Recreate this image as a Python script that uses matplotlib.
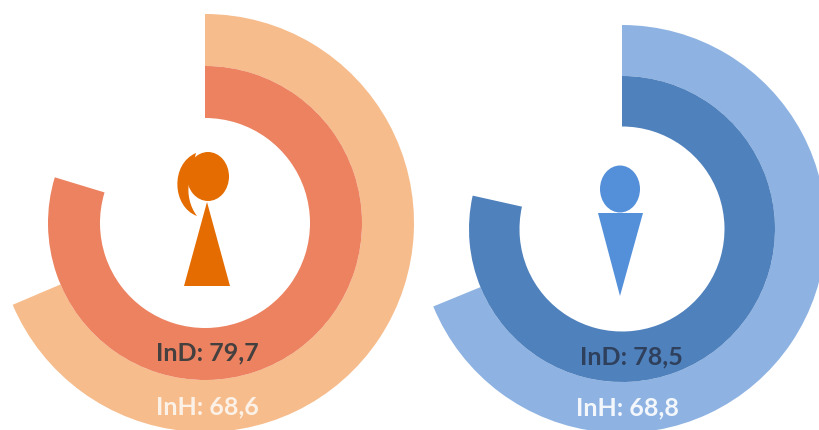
# Donut charts of InD and InH by sex
import matplotlib
matplotlib.use("Agg")
import matplotlib.pyplot as plt
from matplotlib.patches import Ellipse, Polygon, PathPatch
from matplotlib.path import Path

plt.rcParams['font.family'] = ['Lato', 'DejaVu Sans']

# Values
groups = ['women', 'men']
ind_values = [79.7, 78.5]
inh_values = [68.6, 68.8]

# Colours
inh_colors = ['#F6BC8C', '#8EB3E3']
ind_colors = ['#EC8260', '#4F81BD']
icon_colors = ['#E56C00', '#5490DA']
ind_text_colors = ['#44403F', '#2F405C']
inh_text_colors = ['#FCF1E6', '#F3F7FC']

# Ring geometry in pixels: centre x, centre y, hole, middle, outer radius
rings = [(205, 224, 105, 157, 209), (622, 230, 102.5, 153, 204)]
ind_label_pos = [(207, 353), (631, 357)]
inh_label_pos = [(207, 407), (627, 408)]

fig = plt.figure(figsize=(8.19, 4.31), dpi=100)
ax = fig.add_axes([0, 0, 1, 1])


def py(y):
    # the picture is measured from the top
    return 431 - y


for i, group in enumerate(groups):
    cx, cy, r_hole, r_mid, r_out = rings[i]
    ax.pie([inh_values[i], 100 - inh_values[i]], colors=[inh_colors[i], 'none'],
           center=(cx, py(cy)), radius=r_out, startangle=90, counterclock=False,
           wedgeprops={'width': r_out - r_mid}, frame=True)
    ax.pie([ind_values[i], 100 - ind_values[i]], colors=[ind_colors[i], 'none'],
           center=(cx, py(cy)), radius=r_mid, startangle=90, counterclock=False,
           wedgeprops={'width': r_mid - r_hole}, frame=True)

    ax.text(ind_label_pos[i][0], py(ind_label_pos[i][1]),
            'InD: ' + str(ind_values[i]).replace('.', ','),
            color=ind_text_colors[i], fontsize=18, fontweight='bold',
            ha='center', va='center')
    ax.text(inh_label_pos[i][0], py(inh_label_pos[i][1]),
            'InH: ' + str(inh_values[i]).replace('.', ','),
            color=inh_text_colors[i], fontsize=18, fontweight='bold',
            ha='center', va='center')

# Woman icon
ax.add_patch(Ellipse((208, py(177.5)), 42, 49, color=icon_colors[0], lw=0))
ax.add_patch(Polygon([(207, py(203)), (184, py(287)), (230, py(287))],
                     color=icon_colors[0], lw=0))
hair = Path([(196, py(154)), (170, py(165)), (172, py(208)), (197, py(217)),
             (190, py(208)), (187, py(195)), (189, py(184)), (196, py(154))],
            [Path.MOVETO, Path.CURVE4, Path.CURVE4, Path.CURVE4,
             Path.CURVE4, Path.CURVE4, Path.CURVE4, Path.CLOSEPOLY])
ax.add_patch(PathPatch(hair, color=icon_colors[0], lw=0))

# Man icon
ax.add_patch(Ellipse((620, py(190)), 40, 47, color=icon_colors[1], lw=0))
ax.add_patch(Polygon([(598, py(214)), (643, py(214)), (620, py(297))],
                     color=icon_colors[1], lw=0))

ax.set_xlim(0, 819)
ax.set_ylim(0, 431)
ax.set_aspect('auto')
ax.axis('off')

fig.savefig('out.png', dpi=100)
